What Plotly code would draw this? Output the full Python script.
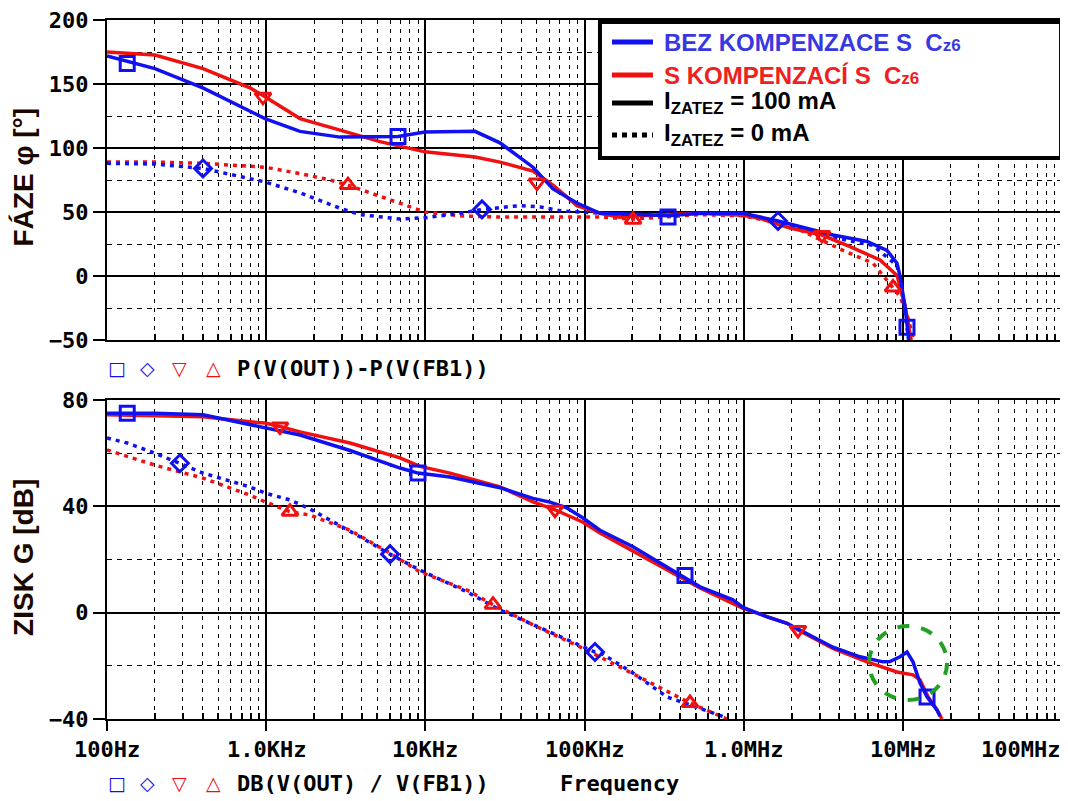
import plotly.graph_objects as go
from plotly.subplots import make_subplots

# ---------------- phase P(V(OUT))-P(V(FB1)) [deg] ----------------
# BEZ KOMPENZACE, I = 100 mA (blue solid)
ph_bez100_f = [100, 134, 200, 400, 983, 1631, 2910, 6735, 9950, 20510, 29440, 47480,
               63400, 89700, 125100, 223200, 334700, 531800, 990400, 1643000, 3640000,
               5957000, 7953000, 9191000, 9600000, 10320000, 10620000, 10940000]
ph_bez100 = [172, 168, 162, 147, 123, 113, 108.5, 109, 112.5, 113, 104, 85,
             68, 57, 49, 48, 47, 49, 49, 43, 32,
             27, 20, 10, 0, -24, -40, -52]

# S KOMPENZACI, I = 100 mA (red solid)
ph_s100_f = [100, 200, 401, 791, 955, 1631, 2910, 5191, 9950, 20510, 29440, 47480,
             63400, 89700, 125100, 167100, 223200, 531800, 990400, 1266000, 1955000,
             3105000, 4656000, 7187000, 9191000, 10320000, 11420000]
ph_s100 = [175, 172.6, 162, 147, 141, 123, 114, 105, 97, 93, 89, 82,
           71, 55, 49, 46, 47, 49, 47.5, 45, 37.5,
           32, 23, 12.5, 0.5, -23, -54]

# BEZ KOMPENZACE, I = 0 mA (blue dotted)
ph_bez0_f = [100, 200, 401, 983, 1631, 2910, 3886, 6932, 9950, 16510, 22700, 39330,
             52530, 70150, 125100, 223200, 531800, 990400, 1643000, 3640000, 6494000,
             9191000, 9600000, 10620000, 10940000]
ph_bez0 = [88, 87.5, 84, 73.5, 65, 53, 48, 44.5, 45.5, 49, 52, 55,
           54, 51, 49, 48, 49, 48, 42, 30, 24,
           8, -2, -38, -52]

# S KOMPENZACI, I = 0 mA (red dotted)
ph_s0_f = [100, 200, 401, 983, 1631, 2518, 3266, 5191, 8010, 9950, 16510, 29440,
           70150, 125100, 201700, 531800, 990400, 1955000, 2259000, 4207000, 6494000,
           8675000, 9600000, 10620000, 11930000]
ph_s0 = [89, 89, 88, 85, 80, 75, 71, 62, 54, 50, 47, 46,
         46, 46, 44.5, 48, 47, 40, 36, 20, 10,
         -9, -16, -30, -54]

# marker positions (phase)
ph_mk_bez100_f, ph_mk_bez100 = [134, 6735, 334700, 10620000], [166, 109, 46, -40]
ph_mk_bez0_f, ph_mk_bez0 = [401, 22700, 1643000], [84, 52, 43]
ph_mk_s100_f, ph_mk_s100 = [955, 50290, 3105000], [140, 73, 32]
ph_mk_s0_f, ph_mk_s0 = [3266, 201700, 8675000], [71, 44, -9]

# ---------------- gain DB(V(OUT)/V(FB1)) [dB] ----------------
g_bez100_f = [100, 134, 200, 401, 791, 983, 1631, 3363, 6932, 8994, 14290, 29440,
              47480, 60680, 77630, 97850, 125100, 201700, 329900, 531800, 857000,
              990400, 1401000, 1872000, 3640000, 5380000, 7506000, 8306000, 9600000,
              10620000, 11580000, 12820000, 14190000, 16390000, 17120000]
g_bez100 = [75, 75, 75, 74.4, 70.6, 69.5, 66.8, 61, 54.4, 52.5, 51, 47,
            43, 41.6, 39.4, 35.6, 31, 24.8, 17, 9.7, 4.8,
            2, -1.6, -4, -13, -16.6, -18.5, -18.4, -16.6,
            -14.8, -18.5, -26.5, -31.7, -36.6, -39]

g_s100_f = [100, 401, 791, 983, 1221, 1631, 3363, 6932, 9258, 14290, 29440, 47480,
            65250, 97850, 125100, 329900, 531800, 990400, 1872000, 2195000, 3640000,
            5957000, 9191000, 11580000, 12820000, 14390000, 16390000, 17620000]
g_s100 = [74.4, 73.7, 71.8, 71.3, 70, 68, 63.8, 58.2, 55, 52.5, 47.3, 41.7,
          38.7, 34, 30, 16, 9.3, 1.6, -4, -6.5, -13.4,
          -18.5, -22.3, -23.4, -25.3, -31.6, -36.6, -40]

g_bez0_f = [100, 134, 200, 287, 401, 791, 983, 1411, 1886, 3512, 5998, 9258, 18270,
            29440, 47480, 97850, 116400, 125100, 201700, 329900, 785900]
g_bez0 = [65.7, 63.8, 60, 56.2, 52.5, 47.3, 45, 42.4, 39, 30, 22, 16, 7.8,
          1, -4.6, -12.9, -14.8, -15, -22.7, -31.7, -39.6]

g_s0_f = [100, 200, 401, 791, 983, 1411, 1886, 3363, 5998, 9258, 18270, 26610,
          47480, 97850, 201700, 460100, 785900]
g_s0 = [61.2, 55.5, 50.6, 44.2, 41.7, 38, 36.7, 31, 22.4, 15.3, 8.5, 3,
        -4.6, -13.4, -23, -34, -40]

g_mk_bez100_f, g_mk_bez100 = [134, 8994, 427900, 14190000], [75, 52.5, 14, -31.7]
g_mk_bez0_f, g_mk_bez0 = [287, 5998, 116400], [56.2, 22, -14.8]
g_mk_s100_f, g_mk_s100 = [1221, 65250, 2195000], [70, 38.7, -6.5]
g_mk_s0_f, g_mk_s0 = [1411, 26610, 460100], [38, 3, -34]

x_tickvals = [1e2, 1e3, 1e4, 1e5, 1e6, 1e7, 1e8]
x_ticktext = ['100Hz', '1.0KHz', '10KHz', '100KHz', '1.0MHz', '10MHz', '100MHz']

BLUE = '#1010f0'
RED = '#f01010'
DOT = '4px,5px'
MONO = dict(family='DejaVu Sans Mono', size=22, color='black', weight='bold')

fig = make_subplots(rows=2, cols=1)


def add_line(f, v, color, dash, row):
    fig.add_trace(go.Scatter(x=f, y=v, mode='lines', showlegend=False,
                             line=dict(color=color, width=3.5, dash=dash)),
                  row=row, col=1)


def add_marks(f, v, color, symbol, size, row):
    fig.add_trace(go.Scatter(x=f, y=v, mode='markers', showlegend=False, cliponaxis=False,
                             marker=dict(symbol=symbol, size=size, color=color,
                                         line=dict(color=color, width=3))),
                  row=row, col=1)


# phase
add_line(ph_s0_f, ph_s0, RED, DOT, 1)
add_line(ph_bez0_f, ph_bez0, BLUE, DOT, 1)
add_line(ph_s100_f, ph_s100, RED, 'solid', 1)
add_line(ph_bez100_f, ph_bez100, BLUE, 'solid', 1)
add_marks(ph_mk_bez100_f, ph_mk_bez100, BLUE, 'square-open', 14, 1)
add_marks(ph_mk_bez0_f, ph_mk_bez0, BLUE, 'diamond-open', 13, 1)
add_marks(ph_mk_s100_f, ph_mk_s100, RED, 'triangle-down-open', 14, 1)
add_marks(ph_mk_s0_f, ph_mk_s0, RED, 'triangle-up-open', 14, 1)

# gain
add_line(g_s0_f, g_s0, RED, DOT, 2)
add_line(g_bez0_f, g_bez0, BLUE, DOT, 2)
add_line(g_s100_f, g_s100, RED, 'solid', 2)
add_line(g_bez100_f, g_bez100, BLUE, 'solid', 2)
add_marks(g_mk_bez100_f, g_mk_bez100, BLUE, 'square-open', 14, 2)
add_marks(g_mk_bez0_f, g_mk_bez0, BLUE, 'diamond-open', 13, 2)
add_marks(g_mk_s100_f, g_mk_s100, RED, 'triangle-down-open', 14, 2)
add_marks(g_mk_s0_f, g_mk_s0, RED, 'triangle-up-open', 14, 2)

minor_x = [m * 10 ** d for d in range(2, 8) for m in range(2, 10)]

xcommon = dict(type='log', range=[2, 8], tickmode='array', tickvals=x_tickvals,
               showticklabels=False, automargin=False,
               showline=True, mirror=True, linecolor='black', linewidth=2,
               showgrid=True, gridcolor='black', gridwidth=1.5, zeroline=False,
               tickcolor='black', tickwidth=2,
               minor=dict(tickmode='array', tickvals=minor_x, showgrid=True,
                          gridcolor='black', gridwidth=1.3, griddash='4px,5px',
                          ticks='inside', ticklen=6, tickcolor='black', tickwidth=1.5))
ycommon = dict(showline=True, mirror=True, linecolor='black', linewidth=2, automargin=False,
               showgrid=True, gridcolor='black', gridwidth=1.5, zeroline=False,
               ticks='outside', ticklen=12, tickcolor='black', tickwidth=2,
               tickfont=MONO, ticklabeloverflow='allow')

# the page body has an 8px margin, so the figure is 8px smaller than the window
fig.update_layout(
    width=1060, height=793,
    margin=dict(l=99, r=6, t=12, b=82),
    paper_bgcolor='white', plot_bgcolor='white',
    xaxis=dict(domain=[0, 1], ticks='inside', ticklen=8, **xcommon),
    xaxis2=dict(domain=[0, 1], ticks='outside', ticklen=10, **xcommon),
    yaxis=dict(domain=[0.5422, 1], range=[-50, 200], dtick=50, tick0=0,
               minor=dict(dtick=25, showgrid=True, gridcolor='black', gridwidth=1.3,
                          griddash='5px,5px'), **ycommon),
    yaxis2=dict(domain=[0, 0.4564], range=[-40, 80], dtick=40, tick0=0,
                minor=dict(dtick=20, showgrid=True, gridcolor='black', gridwidth=1.3,
                           griddash='5px,5px'), **ycommon),
)

TITLE = dict(family='Liberation Sans', size=28, color='#1a0800', weight='bold')
ann = [
    dict(x=-0.087, y=0.776, text='FÁZE φ [°]', textangle=-90, font=TITLE),
    dict(x=-0.087, y=0.2318, text='ZISK G [dB]', textangle=-90, font=TITLE),
]

# frequency labels under the lower plot (last one kept inside the figure)
for i, t in enumerate(x_ticktext):
    ann.append(dict(x=i / 6, y=-0.0443, text=t, font=MONO,
                    xanchor='right' if i == 6 else 'center'))

# marker keys below each plot
sym_font = dict(family='DejaVu Sans', size=19, weight='bold')
for yy, label in [(0.5021, 'P(V(OUT))-P(V(FB1))'), (-0.0916, 'DB(V(OUT) / V(FB1))')]:
    for xx, s, c in [(0.0105, '□', BLUE), (0.0429, '◇', BLUE), (0.0764, '▽', RED), (0.111, '△', RED)]:
        ann.append(dict(x=xx, y=yy, text=s, font=dict(sym_font, color=c)))
    ann.append(dict(x=0.134, y=yy, text=label, xanchor='left', font=MONO))
ann.append(dict(x=0.4723, y=-0.0916, text='Frequency', xanchor='left', font=MONO))

# legend box contents
LEG = dict(family='Liberation Sans', size=24, weight='bold')
leg_rows = [
    (0.9685, 'BEZ KOMPENZACE S  C<span style="font-size:17px">z6</span>', BLUE, 'solid', '#3838e0'),
    (0.9213, 'S KOMPENZACÍ S  C<span style="font-size:17px">z6</span>', RED, 'solid', '#ee2020'),
    (0.8813, 'I<sub>ZATEZ</sub> = 100 mA', 'black', 'solid', 'black'),
    (0.8355, 'I<sub>ZATEZ</sub> = 0 mA', 'black', '5px,5px', 'black'),
]
shapes = [dict(type='rect', xref='paper', yref='paper', x0=0.5162, x1=0.999, y0=0.8026, y1=0.9971,
               fillcolor='white', line=dict(color='black', width=4), layer='above')]
for yy, txt, lc, ld, tc in leg_rows:
    shapes.append(dict(type='line', xref='paper', yref='paper', x0=0.5288, x1=0.5717, y0=yy, y1=yy,
                       line=dict(color=lc, width=5, dash=ld), layer='above'))
    ann.append(dict(x=0.5812, y=yy, text=txt, xanchor='left', font=dict(LEG, color=tc)))

# green dashed circle around the gain peak
shapes.append(dict(type='circle', xref='x2 domain', yref='y2 domain',
                   x0=0.798, x1=0.8796, y0=0.0596, y1=0.2915,
                   line=dict(color='#22a022', width=4, dash='dash'), layer='above'))

for a in ann:
    a.setdefault('xref', 'paper')
    a.setdefault('yref', 'paper')
    a.setdefault('xanchor', 'center')
    a.setdefault('yanchor', 'middle')
    a.setdefault('showarrow', False)

fig.update_layout(annotations=ann, shapes=shapes)

fig.write_html("out.html")
